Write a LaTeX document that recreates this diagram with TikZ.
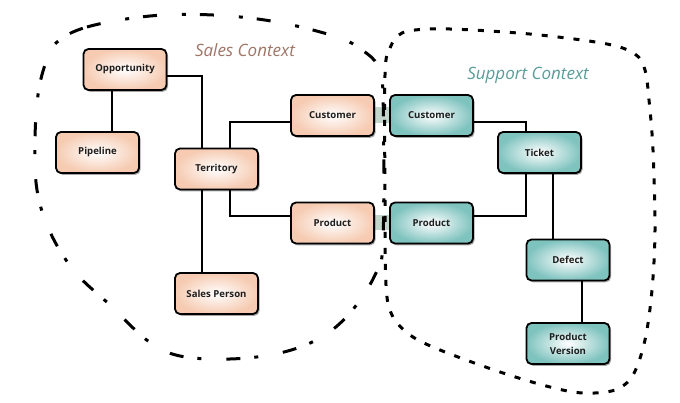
\documentclass[tikz,border=0pt]{standalone}
\usepackage{fontspec}
\setmainfont{Open Sans}
\usetikzlibrary{shadows,calc,backgrounds}
\definecolor{salesfill}{HTML}{F6CBB2}
\definecolor{suppfill}{HTML}{7FC3BF}
\definecolor{salestxt}{HTML}{9E7566}
\definecolor{supptxt}{HTML}{5A9C99}
\definecolor{bandcol}{HTML}{C2D6CB}
\definecolor{boxtxt}{HTML}{1E1E1E}
\tikzset{
 ent/.style={draw=black, line width=1.8pt, rounded corners=5pt, minimum width=83pt, minimum height=41pt, inner sep=2pt, align=center, font=\fontsize{9.6}{14}\selectfont\bfseries, text=boxtxt, drop shadow={shadow xshift=1.5pt, shadow yshift=-1.8pt, opacity=0.35, fill=black}},
 salesbox/.style={ent, inner color=white, outer color=salesfill},
 suppbox/.style={ent, inner color=white, outer color=suppfill},
 conn/.style={draw=black, line width=1.2pt},
 salesbound/.style={line width=3pt, dash pattern=on 14pt off 25pt on 4pt off 14pt},
 suppbound/.style={line width=3pt, dash pattern=on 6pt off 10pt},
 ctxlabel/.style={font=\fontsize{17}{19}\selectfont\itshape}
}
\begin{document}
\begin{tikzpicture}[x=1pt,y=-1pt]
\useasboundingbox (0,0) rectangle (680,403);
% nodes
\node[salesbox] (opp) at (125,69.5) {Opportunity};
\node[salesbox] (pipe) at (97.5,152.5) {Pipeline};
\node[salesbox] (terr) at (216.5,169) {Territory};
\node[salesbox] (custS) at (332.5,115.5) {Customer};
\node[salesbox] (prodS) at (332.5,223) {Product};
\node[salesbox] (salesp) at (216.5,293.5) {Sales Person};
\node[suppbox] (custT) at (431.5,115.5) {Customer};
\node[suppbox] (prodT) at (431.5,223) {Product};
\node[suppbox] (ticket) at (539.5,152.5) {Ticket};
\node[suppbox] (defect) at (568,260) {Defect};
\node[suppbox] (pver) at (568,343.5) {Product\\Version};
% labels
\node[ctxlabel, text=salestxt] (salesctx) at (245,50) {Sales Context};
\node[ctxlabel, text=supptxt] (suppctx) at (528,75) {Support Context};
\begin{scope}[on background layer]
\fill[bandcol] ($(custS.east)+(0,-8)$) rectangle ($(custT.west)+(0,8)$);
\fill[bandcol] ($(prodS.east)+(0,-8)$) rectangle ($(prodT.west)+(0,7.5)$);
\draw[salesbound] plot[smooth cycle, tension=0.6] coordinates {
 (56,43) (87,27) (150,16) (213,15) (277,22) (337,37) (362,50) (378,66) (383,95) (383,240) (375,275) (350,313) (320,338) (280,353) (230,359) (180,356) (148,341) (110,305) (75,272) (50,232) (37,190) (35,140) (38,95) (45,65)};
\draw[suppbound] plot[smooth cycle, tension=0.55] coordinates {
 (385,75) (390,48) (402,33) (430,29) (473,30) (540,35) (607,44) (635,54) (645,70) (649,100) (653,150) (655,230) (652,290) (645,340) (633,375) (615,390) (583,393) (550,387) (500,372) (440,350) (410,335) (392,315) (386,285) (385,200)};
% connectors
\draw[conn] ($(opp.east)+(0,6.5)$) -| ($(terr.north)+(-14.5,0)$);
\draw[conn] ($(opp.south)+(-13,0)$) -- ($(pipe.north)+(14.5,0)$);
\draw[conn] ($(terr.north)+(13.5,0)$) |- ($(custS.west)+(0,6.5)$);
\draw[conn] ($(terr.south)+(13.5,0)$) |- ($(prodS.west)+(0,-7)$);
\draw[conn] ($(terr.south)+(-14.5,0)$) -- ($(salesp.north)+(-14.5,0)$);
\draw[conn] ($(custT.east)+(0,6.5)$) -| ($(ticket.north)+(-13.5,0)$);
\draw[conn] ($(ticket.south)+(-13.5,0)$) |- ($(prodT.east)+(0,-7)$);
\draw[conn] ($(ticket.south)+(13.5,0)$) -- ($(defect.north)+(-15,0)$);
\draw[conn] ($(defect.south)+(14,0)$) -- ($(pver.north)+(14,0)$);
\end{scope}
\end{tikzpicture}
\end{document}
